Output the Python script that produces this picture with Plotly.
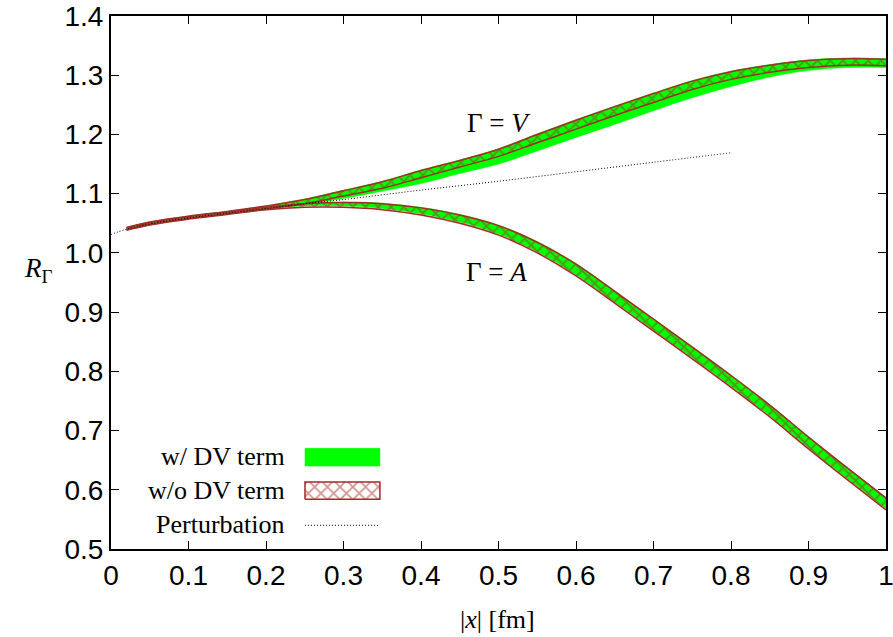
import plotly.graph_objects as go

# ---------------- data ----------------
x_band = [0.02, 0.05, 0.10, 0.15, 0.20, 0.25, 0.30, 0.35, 0.40, 0.45, 0.50,
          0.55, 0.60, 0.65, 0.70, 0.75, 0.80, 0.85, 0.90, 0.95, 1.00]

# Gamma = V, with DV term (green band)
v_dv_lo = [1.040, 1.049, 1.059, 1.067, 1.075, 1.082, 1.092, 1.104, 1.117, 1.134, 1.150,
           1.172, 1.195, 1.217, 1.240, 1.262, 1.281, 1.297, 1.308, 1.313, 1.313]
v_dv_hi = [1.043, 1.052, 1.062, 1.070, 1.079, 1.091, 1.106, 1.121, 1.140, 1.157, 1.176,
           1.201, 1.225, 1.248, 1.270, 1.291, 1.307, 1.318, 1.326, 1.329, 1.328]
# Gamma = V, without DV term (hatched band)
v_nodv_lo = [1.039, 1.048, 1.058, 1.066, 1.074, 1.083, 1.096, 1.109, 1.127, 1.145, 1.163,
             1.186, 1.209, 1.232, 1.254, 1.276, 1.293, 1.305, 1.313, 1.317, 1.316]
v_nodv_hi = [1.043, 1.052, 1.062, 1.070, 1.079, 1.090, 1.105, 1.120, 1.139, 1.156, 1.175,
             1.200, 1.224, 1.247, 1.269, 1.290, 1.306, 1.317, 1.325, 1.328, 1.327]

# Gamma = A, with DV term (green band)
a_dv_lo = [1.040, 1.049, 1.059, 1.067, 1.075, 1.079, 1.079, 1.075, 1.066, 1.052, 1.032,
           1.002, 0.963, 0.917, 0.870, 0.823, 0.775, 0.725, 0.671, 0.619, 0.568]
a_dv_hi = [1.043, 1.052, 1.062, 1.070, 1.078, 1.084, 1.086, 1.084, 1.077, 1.065, 1.047,
           1.019, 0.982, 0.936, 0.889, 0.842, 0.794, 0.744, 0.690, 0.638, 0.587]
# Gamma = A, without DV term (hatched band)
a_nodv_lo = [1.038, 1.047, 1.057, 1.065, 1.073, 1.077, 1.077, 1.073, 1.064, 1.050, 1.030,
             1.000, 0.961, 0.915, 0.868, 0.821, 0.773, 0.723, 0.669, 0.617, 0.566]
a_nodv_hi = [1.042, 1.051, 1.061, 1.069, 1.077, 1.083, 1.085, 1.083, 1.076, 1.064, 1.046,
             1.018, 0.981, 0.935, 0.888, 0.841, 0.793, 0.743, 0.689, 0.637, 0.586]

# Perturbation
x_pert = [0.0, 0.02, 0.05, 0.10, 0.15, 0.20, 0.25, 0.30, 0.35, 0.40, 0.50, 0.60, 0.70, 0.80]
y_pert = [1.031, 1.040, 1.049, 1.059, 1.067, 1.075, 1.083, 1.090, 1.098, 1.106, 1.121,
          1.137, 1.153, 1.169]

x_ticks = [0, 0.1, 0.2, 0.3, 0.4, 0.5, 0.6, 0.7, 0.8, 0.9, 1]
x_ticklabels = ["0", "0.1", "0.2", "0.3", "0.4", "0.5", "0.6", "0.7", "0.8", "0.9", "1"]
y_ticks = [0.5, 0.6, 0.7, 0.8, 0.9, 1.0, 1.1, 1.2, 1.3, 1.4]
y_ticklabels = ["0.5", "0.6", "0.7", "0.8", "0.9", "1.0", "1.1", "1.2", "1.3", "1.4"]

legend_labels = ["w/ DV term", "w/o DV term", "Perturbation"]

# ---------------- styles ----------------
GREEN = "#00ff00"
BROWN = "#a52a2a"
SERIF = "Liberation Serif"
SANS = "Liberation Sans"
HATCH = dict(shape="x", fgcolor=BROWN, bgcolor="rgba(0,0,0,0)", size=9, solidity=0.35,
             fillmode="overlay")
DOTS = "1px,2px"

fig = go.Figure()


def green_band(lo, hi):
    fig.add_trace(go.Scatter(x=x_band, y=lo, mode="lines", line=dict(width=0.5, color=GREEN),
                             line_shape="spline", showlegend=False, hoverinfo="skip"))
    fig.add_trace(go.Scatter(x=x_band, y=hi, mode="lines", line=dict(width=0.5, color=GREEN),
                             line_shape="spline", fill="tonexty", fillcolor=GREEN,
                             showlegend=False, hoverinfo="skip"))


def hatch_band(lo, hi):
    fig.add_trace(go.Scatter(x=x_band, y=lo, mode="lines", line=dict(width=1.5, color=BROWN),
                             line_shape="spline", showlegend=False, hoverinfo="skip"))
    fig.add_trace(go.Scatter(x=x_band, y=hi, mode="lines", line=dict(width=1.5, color=BROWN),
                             line_shape="spline", fill="tonexty", fillcolor="rgba(0,0,0,0)",
                             fillpattern=HATCH, showlegend=False, hoverinfo="skip"))


green_band(v_dv_lo, v_dv_hi)
green_band(a_dv_lo, a_dv_hi)
hatch_band(v_nodv_lo, v_nodv_hi)
hatch_band(a_nodv_lo, a_nodv_hi)

fig.add_trace(go.Scatter(x=x_pert, y=y_pert, mode="lines", line_shape="spline",
                         line=dict(color="black", width=1, dash=DOTS),
                         showlegend=False, hoverinfo="skip"))

# ---------------- hand-made legend (keys at left-bottom) ----------------
kx0, kx1 = 0.2503, 0.347
fig.add_trace(go.Scatter(x=[kx0, kx1, kx1, kx0, kx0], y=[0.640, 0.640, 0.670, 0.670, 0.640],
                         mode="lines", line=dict(width=0.5, color=GREEN), fill="toself",
                         fillcolor=GREEN, showlegend=False, hoverinfo="skip"))
fig.add_trace(go.Scatter(x=[kx0, kx1, kx1, kx0, kx0], y=[0.584, 0.584, 0.613, 0.613, 0.584],
                         mode="lines", line=dict(width=1.5, color=BROWN), fill="toself",
                         fillcolor="rgba(0,0,0,0)", fillpattern=HATCH,
                         showlegend=False, hoverinfo="skip"))
fig.add_trace(go.Scatter(x=[kx0, kx1], y=[0.540, 0.540], mode="lines",
                         line=dict(color="black", width=1, dash=DOTS),
                         showlegend=False, hoverinfo="skip"))

annotations = []
for lab, yy in zip(legend_labels, [0.656, 0.599, 0.541]):
    annotations.append(dict(x=0.227, y=yy, xref="x", yref="y", text=lab, showarrow=False,
                            xanchor="right", yanchor="middle",
                            font=dict(family=SERIF, size=26, color="black")))

annotations += [
    dict(x=0.5006, y=1.219, xref="x", yref="y", text="Γ = <i>V</i>", showarrow=False,
         xanchor="center", yanchor="middle",
         font=dict(family=SERIF, size=27, color="black")),
    dict(x=0.498, y=0.968, xref="x", yref="y", text="Γ = <i>A</i>", showarrow=False,
         xanchor="center", yanchor="middle",
         font=dict(family=SERIF, size=27, color="black")),
    dict(x=-0.094, y=0.523, xref="paper", yref="paper", text="<i>R</i><sub>Γ</sub>",
         showarrow=False, xanchor="center", yanchor="middle",
         font=dict(family=SERIF, size=27, color="black")),
    dict(x=0.499, y=-0.133, xref="paper", yref="paper", text="|<i>x</i>| [fm]",
         showarrow=False, xanchor="center", yanchor="middle",
         font=dict(family=SERIF, size=26, color="black")),
]

axis_common = dict(showline=True, linewidth=2, linecolor="black", mirror="allticks",
                   ticks="inside", ticklen=8, tickwidth=1.2, tickcolor="black",
                   showgrid=False, zeroline=False, automargin=False,
                   ticklabeloverflow="allow",
                   tickfont=dict(family=SANS, size=28, color="black"))

fig.update_layout(
    width=893, height=637,
    margin=dict(l=111, r=7, t=16, b=88),
    paper_bgcolor="white", plot_bgcolor="white",
    xaxis=dict(range=[0, 1], tickvals=x_ticks, ticktext=x_ticklabels, **axis_common),
    yaxis=dict(range=[0.5, 1.4], tickvals=y_ticks, ticktext=y_ticklabels, **axis_common),
    annotations=annotations,
    showlegend=False,
)

fig.write_html("out.html", config={"displayModeBar": False})
